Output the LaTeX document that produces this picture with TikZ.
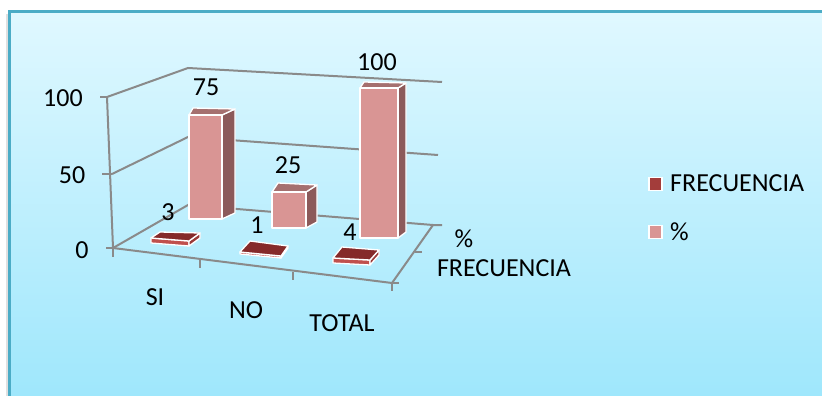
\documentclass[tikz,border=0pt]{standalone}
\usepackage{fontspec}
\setmainfont{Carlito}
\definecolor{bgtop}{HTML}{E0F8FF}
\definecolor{bgbot}{HTML}{9FE7FC}
\definecolor{framecol}{HTML}{4BACC6}
\definecolor{gridgray}{HTML}{8A8A8A}
\definecolor{pctfront}{HTML}{D99594}
\definecolor{pctside}{HTML}{8C5A5A}
\definecolor{pcttop}{HTML}{A5706F}
\definecolor{frqtop}{HTML}{852A2A}
\definecolor{frqfront}{HTML}{C0504D}
\definecolor{frqside}{HTML}{9A3A38}
\definecolor{legfrq}{HTML}{A33D3B}
\begin{document}
\begin{tikzpicture}[x=1pt,y=-1pt,
  gridline/.style={draw=gridgray,line width=2pt},
  face/.style={draw=white,line width=1.3pt,line join=round},
  lbl/.style={font=\fontsize{26}{31}\selectfont,inner sep=0pt,text=black},
  legsq/.style={draw=white,line width=1.5pt,minimum size=13pt,inner sep=0pt}]
\useasboundingbox (0,0) rectangle (822,396);
\fill[white] (0,0) rectangle (822,396);
\draw[black!12,line width=2pt] (6.5,14) -- (6.5,396);
\shade[top color=bgtop,bottom color=bgbot] (9.5,11.5) rectangle (822,396);
\draw[framecol,line width=3pt] (9.5,396) -- (9.5,11.5) -- (822,11.5);

% walls and floor
\draw[gridline] (107,97) -- (188,68) -- (442,82);
\draw[gridline] (112,174) -- (188,137) -- (438,155);
\draw[gridline] (113,248) -- (188,205) -- (433,225) -- (442,225);
\draw[gridline] (107,97) -- (113,248);
\draw[gridline] (113,248) -- (392,283) -- (433,225);
% ticks
\draw[gridline] (100,97) -- (107,97);
\draw[gridline] (102,174) -- (112,174);
\draw[gridline] (106,248) -- (113,248) -- (113,257);
\draw[gridline] (200,260) -- (200,268);
\draw[gridline] (293,272) -- (293,280);
\draw[gridline] (392,283) -- (392,291);
\draw[gridline] (392,283) -- (399,283);
\draw[gridline] (415,252) -- (422,252);

% % series bars
\filldraw[face,fill=pctside] (222,115) -- (235,109) -- (235,213) -- (222,219) -- cycle;
\filldraw[face,fill=pcttop] (189,115) -- (222,115) -- (235,109) -- (193,108) -- cycle;
\filldraw[face,fill=pctfront] (189,115) rectangle (222,219);

\filldraw[face,fill=pctside] (306,192) -- (317,185) -- (317,222) -- (306,228) -- cycle;
\filldraw[face,fill=pcttop] (272,192) -- (306,192) -- (317,185) -- (278,183) -- cycle;
\filldraw[face,fill=pctfront] (272,192) rectangle (306,228);

\filldraw[face,fill=pctside] (398,88) -- (406,83) -- (406,232) -- (398,238) -- cycle;
\filldraw[face,fill=pcttop] (360,88) -- (398,88) -- (406,83) -- (364,82) -- cycle;
\filldraw[face,fill=pctfront] (360,88) rectangle (398,238);

% FRECUENCIA slabs
\filldraw[face,fill=frqfront] (151,238) -- (189,241) -- (189,246) -- (151,243) -- cycle;
\filldraw[face,fill=frqside] (189,241) -- (200,233) -- (200,238) -- (189,246) -- cycle;
\filldraw[face,fill=frqtop] (160,232) -- (200,233) -- (189,241) -- (151,238) -- cycle;

\filldraw[face,fill=frqfront] (240,252) -- (281,256) -- (281,258) -- (240,254) -- cycle;
\filldraw[face,fill=frqside] (281,256) -- (288,246) -- (288,248) -- (281,258) -- cycle;
\filldraw[face,fill=frqtop] (250,241) -- (288,246) -- (281,256) -- (240,252) -- cycle;

\filldraw[face,fill=frqfront] (333,258) -- (370,260) -- (370,265) -- (333,263) -- cycle;
\filldraw[face,fill=frqside] (370,260) -- (379,250) -- (379,255) -- (370,265) -- cycle;
\filldraw[face,fill=frqtop] (342,247) -- (379,250) -- (370,260) -- (333,258) -- cycle;

% axis labels
\node[lbl] (y100) at (63,98) {100};
\node[lbl] (y50) at (72,175) {50};
\node[lbl] (y0) at (82,250) {0};
\node[lbl] (cSI) at (155,297) {SI};
\node[lbl] (cNO) at (246,310) {NO};
\node[lbl] (cTOT) at (342,323) {TOTAL};
\node[lbl] (sPct) at (464,239) {\%};
\node[lbl] (sFrq) at (504,268) {FRECUENCIA};

% data labels
\node[lbl] (d75) at (206,87) {75};
\node[lbl] (d100) at (377,62) {100};
\node[lbl] (d25) at (288,165) {25};
\node[lbl] (d3) at (168,212) {3};
\node[lbl] (d1) at (257,225) {1};
\node[lbl] (d4) at (350,232) {4};

% legend
\node[legsq,fill=legfrq] (lq1) at (655.5,184) {};
\node[legsq,fill=pctfront] (lq2) at (655.5,232) {};
\node[lbl,anchor=west] (lt1) at (670,183) {FRECUENCIA};
\node[lbl,anchor=west] (lt2) at (670,232) {\%};
\end{tikzpicture}
\end{document}
